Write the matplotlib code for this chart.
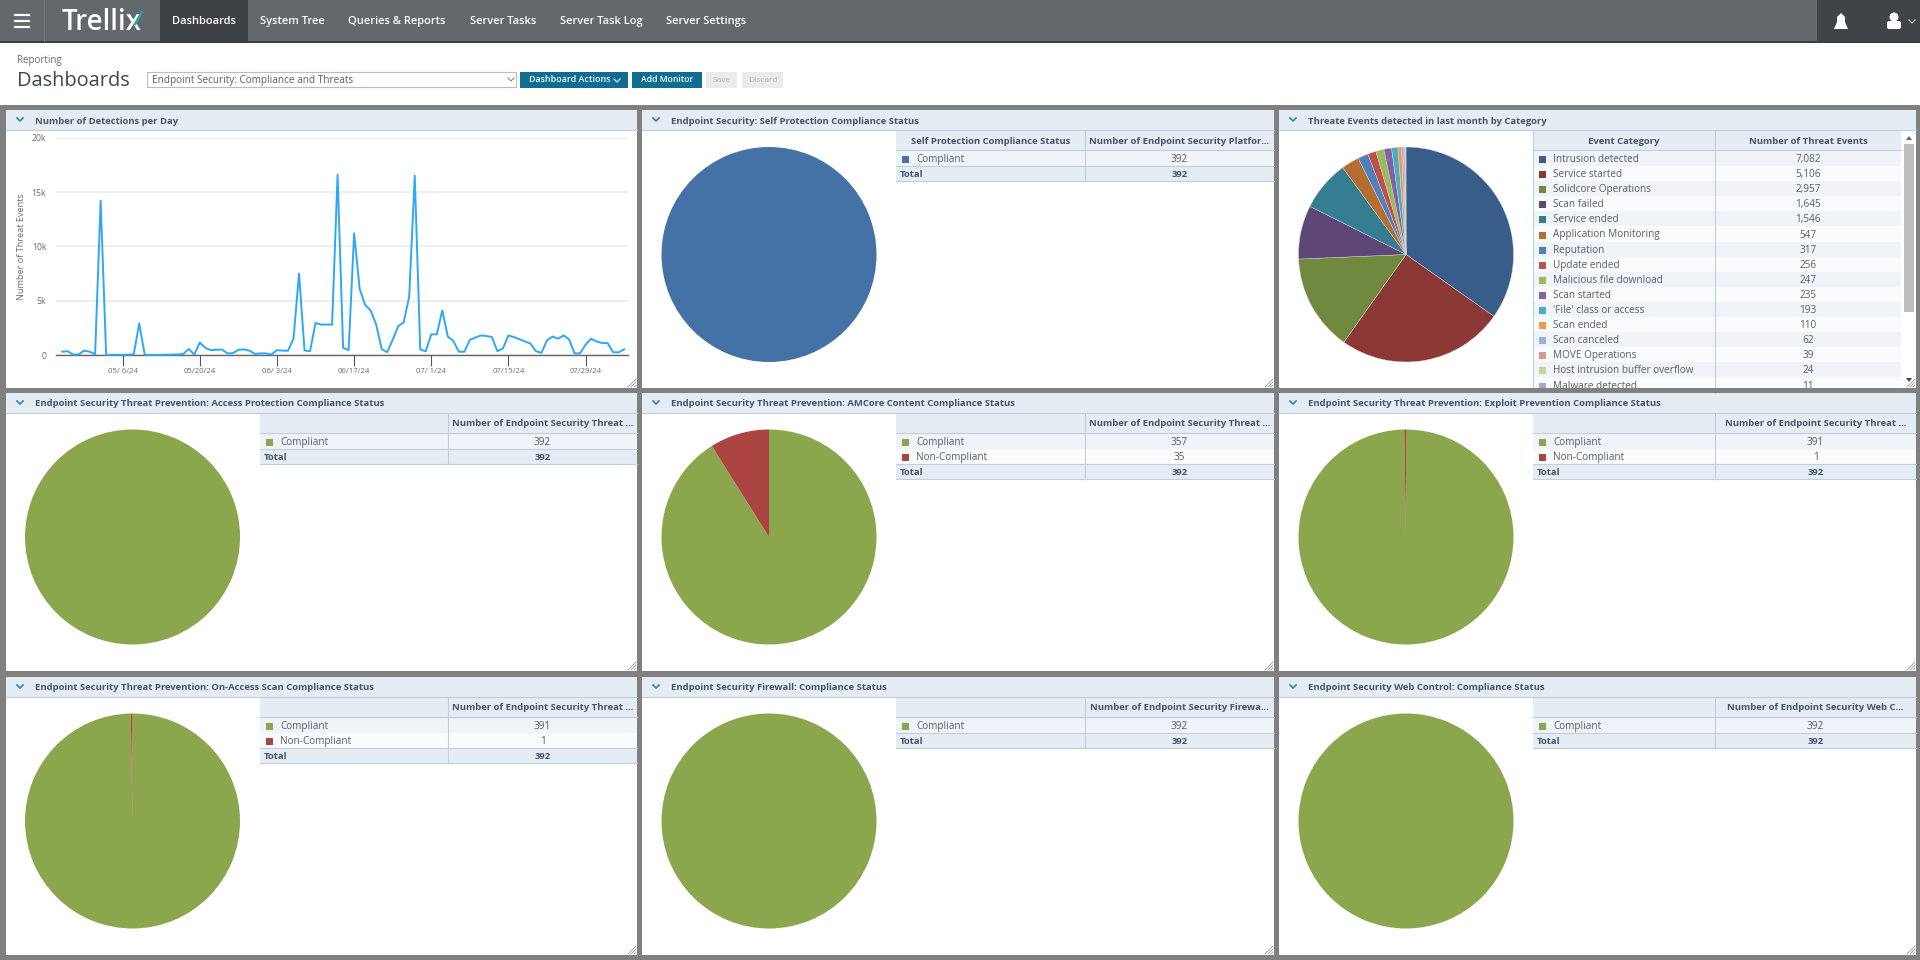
import pandas as pd
import matplotlib
matplotlib.use('Agg')
import matplotlib.pyplot as plt
from matplotlib.patches import Rectangle, Circle, Polygon, FancyBboxPatch

W, H = 1920, 960
UI_FONT = 'Open Sans'

# nav bar
nav_items = ['Dashboards', 'System Tree', 'Queries & Reports', 'Server Tasks', 'Server Task Log', 'Server Settings']
nav_x = [204, 292, 397, 503, 601, 706]

# line chart
detections = [300, 350, 50, 50, 400, 300, 80, 14200, 0, 20, 20, 20, 30, 50, 2900, 30, 0, 10, 20, 30, 40, 50,
              100, 550, 50, 1150, 650, 450, 480, 500, 150, 170, 480, 520, 400, 100, 150, 150, 50, 450, 400, 400,
              1500, 7500, 420, 350, 2950, 2800, 2800, 2800, 16600, 650, 450, 11200, 6100, 4600, 4100, 2800, 550,
              250, 1400, 2650, 3000, 5400, 16500, 500, 350, 1900, 1900, 4100, 1700, 1300, 300, 300, 1400, 1600,
              1800, 1750, 1650, 350, 600, 1800, 1650, 1450, 1250, 1050, 350, 200, 1350, 1700, 1500, 1800, 1450,
              150, 150, 950, 1500, 1250, 1100, 1100, 250, 250, 520]
first_day = '2024-04-25'
date_ticks = ['2024-05-06', '2024-05-20', '2024-06-03', '2024-06-17', '2024-07-01', '2024-07-15', '2024-07-29']
date_labels = ['05/ 6/24', '05/20/24', '06/ 3/24', '06/17/24', '07/ 1/24', '07/15/24', '07/29/24']
y_ticks = [0, 5000, 10000, 15000, 20000]
y_labels = ['0', '5k', '10k', '15k', '20k']

# threat events table and pie
event_names = ['Intrusion detected', 'Service started', 'Solidcore Operations', 'Scan failed', 'Service ended',
               'Application Monitoring', 'Reputation', 'Update ended', 'Malicious file download', 'Scan started',
               "'File' class or access", 'Scan ended', 'Scan canceled', 'MOVE Operations',
               'Host intrusion buffer overflow', 'Malware detected']
event_counts = [7082, 5106, 2957, 1645, 1546, 547, 317, 256, 247, 235, 193, 110, 62, 39, 24, 11]
event_colors = ['#385D8A', '#8C3836', '#71893F', '#5C4776', '#357D91', '#B66D31', '#4F81BD', '#C0504D',
                '#9BBB59', '#8064A2', '#4BACC6', '#F79646', '#95B3D7', '#D99694', '#C3D69B', '#B2A2C7']

# compliance monitors
BLUE, GREEN, RED = '#4472A6', '#8BA64D', '#AC4442'
monitor_titles = ['Endpoint Security: Self Protection Compliance Status',
                  'Endpoint Security Threat Prevention: Access Protection Compliance Status',
                  'Endpoint Security Threat Prevention: AMCore Content Compliance Status',
                  'Endpoint Security Threat Prevention: Exploit Prevention Compliance Status',
                  'Endpoint Security Threat Prevention: On-Access Scan Compliance Status',
                  'Endpoint Security Firewall: Compliance Status',
                  'Endpoint Security Web Control: Compliance Status']
monitor_cols = [1, 0, 1, 2, 0, 1, 2]
monitor_rows = [0, 1, 1, 1, 2, 2, 2]
monitor_heads = ['Number of Endpoint Security Platfor...', 'Number of Endpoint Security Threat ...',
                 'Number of Endpoint Security Threat ...', 'Number of Endpoint Security Threat ...',
                 'Number of Endpoint Security Threat ...', 'Number of Endpoint Security Firewa...',
                 'Number of Endpoint Security Web C...']
monitor_names = [['Compliant'], ['Compliant'], ['Compliant', 'Non-Compliant'], ['Compliant', 'Non-Compliant'],
                 ['Compliant', 'Non-Compliant'], ['Compliant'], ['Compliant']]
monitor_values = [[392], [392], [357, 35], [391, 1], [391, 1], [392], [392]]
monitor_colors = [[BLUE], [GREEN], [GREEN, RED], [GREEN, RED], [GREEN, RED], [GREEN], [GREEN]]

# layout, in pixels of the page
col_left = [6, 642, 1279]
col_right = [637, 1274, 1916]
col_pie = [132.5, 769, 1406]
col_table = [260, 896, 1533]
col_split = [448, 1085, 1715]
row_top = [110, 393, 677]
row_bottom = [388, 671, 955]
row_pie = [254.5, 537, 821]
PIE_R = 107.5

HEAD_BG = '#E6ECF4'
TEXT = '#55606C'
HEAD_TEXT = '#46556A'
BORDER = '#C3CEDC'

fig = plt.figure(figsize=(W / 100, H / 100), dpi=100)
page = fig.add_axes([0, 0, 1, 1])
page.set_xlim(0, W)
page.set_ylim(H, 0)
page.axis('off')


def box(x0, y0, x1, y1, color, z=1, **kw):
    page.add_patch(Rectangle((x0, y0), x1 - x0, y1 - y0, facecolor=color, edgecolor='none', zorder=z, **kw))


def label(x, y, s, size=6.8, color=TEXT, weight='normal', ha='left', font=UI_FONT, z=3):
    page.text(x, y, s, fontsize=size, color=color, fontweight=weight, ha=ha, va='center', family=font, zorder=z)


def add_pie(cx, cy, values, colors, edge='none'):
    ax = fig.add_axes([(cx - PIE_R) / W, 1 - (cy + PIE_R) / H, 2 * PIE_R / W, 2 * PIE_R / H])
    ax.pie(values, colors=colors, startangle=90, counterclock=False, radius=1,
           wedgeprops={'edgecolor': edge, 'linewidth': 0.3})
    ax.set_xlim(-1, 1)
    ax.set_ylim(-1, 1)
    ax.set_zorder(2)


def add_panel(col, row, title):
    x0, x1, y0, y1 = col_left[col], col_right[col], row_top[row], row_bottom[row]
    box(x0, y0, x1, y1, 'white')
    box(x0, y0, x1, y0 + 20, HEAD_BG)
    page.plot([x0, x1], [y0 + 20, y0 + 20], color=BORDER, lw=0.8, zorder=2)
    page.plot([x0 + 11, x0 + 14, x0 + 17], [y0 + 8, y0 + 11, y0 + 8], color='#2B86B8', lw=1.2, zorder=3)
    label(x0 + 29, y0 + 11, title, size=6.8, color=HEAD_TEXT, weight='bold')
    for d in (3, 6, 9):
        page.plot([x1 - d, x1 - 1], [y1 - 1, y1 - d], color='#999999', lw=0.6, zorder=3)


def add_table(col, row, head_left, head_right, names, values, colors, total=None, right=None):
    x0, xs = col_table[col], col_split[col]
    x1 = right or col_right[col]
    y0 = row_top[row] + 20
    box(x0, y0, x1, y0 + 20, HEAD_BG)
    label((x0 + xs) / 2, y0 + 11, head_left, color=HEAD_TEXT, weight='bold', ha='center')
    label((xs + x1) / 2, y0 + 11, head_right, color=HEAD_TEXT, weight='bold', ha='center')
    y = y0 + 21
    for i in range(len(names)):
        box(x0, y, x1, y + 15, '#F0F3F8' if i % 2 == 0 else '#FAFBFC')
        box(x0 + 6, y + 5, x0 + 13, y + 12, colors[i], z=3)
        label(x0 + 20, y + 8.5, names[i], size=7.2)
        label((xs + x1) / 2, y + 8.5, f'{values[i]:,}', size=7.2, ha='center')
        y += 15.1
    if total is not None:
        page.plot([x0, x1], [y, y], color=BORDER, lw=0.8, zorder=2)
        box(x0, y + 0.5, x1, y + 15, HEAD_BG)
        page.plot([x0, x1], [y + 15, y + 15], color=BORDER, lw=0.8, zorder=2)
        label(x0 + 4, y + 8.5, 'Total', size=6.8, color=HEAD_TEXT, weight='bold')
        label((xs + x1) / 2, y + 8.5, f'{total:,}', size=6.8, color=HEAD_TEXT, weight='bold', ha='center')
    page.plot([x0, x1], [y0 + 20, y0 + 20], color=BORDER, lw=0.8, zorder=2)
    page.plot([xs, xs], [y0, y], color=BORDER, lw=0.8, zorder=2)
    if total is not None:
        page.plot([xs, xs], [y, y + 15], color=BORDER, lw=0.8, zorder=2)


# page background and top bars
box(0, 0, W, H, '#808080', z=0)
box(0, 43, W, 105, 'white')
box(0, 0, W, 41, '#63686D')
box(0, 41, W, 43, '#3A3D40', z=2)
box(160, 0, 248, 41, '#3E4247', z=2)
box(1817, 0, W, 41, '#3F4447', z=2)
page.plot([44, 44], [0, 41], color='#74797E', lw=0.8, zorder=2)
for yy in (15, 21, 27):
    page.plot([15, 29], [yy, yy], color='white', lw=1.6, zorder=3)
label(62, 22.5, 'Trellix', size=20, color='white', weight='semibold')
page.plot([135, 142], [24, 12], color='#1FA8A0', lw=1.8, zorder=4)
for i in range(len(nav_items)):
    label(nav_x[i], 21.5, nav_items[i], size=8, color='white', weight='semibold', ha='center')
# bell and user icons
page.add_patch(Polygon([(1834, 29), (1837, 22), (1837, 17), (1841, 13), (1845, 17), (1845, 22), (1848, 29)],
                       facecolor='white', edgecolor='none', zorder=3))
page.add_patch(Circle((1894, 17), 4.5, facecolor='white', edgecolor='none', zorder=3))
page.add_patch(FancyBboxPatch((1889, 23), 10, 4, boxstyle='round,pad=2', facecolor='white', edgecolor='none', zorder=3))
page.plot([1909, 1912, 1915], [20, 23, 20], color='#C5C8CB', lw=0.9, zorder=3)

label(17, 60, 'Reporting', size=7.0, color='#666C73')
label(17, 81.5, 'Dashboards', size=14.4, color='#3F464D')
page.add_patch(Rectangle((147, 72), 369, 15, facecolor='white', edgecolor='#B9BDC2', lw=0.8, zorder=2))
label(152, 80, 'Endpoint Security: Compliance and Threats', size=7.2)
page.plot([508, 511, 514], [78, 81, 78], color='#888888', lw=0.8, zorder=3)
box(520, 72, 628, 88, '#0F6D93', z=2)
label(570, 80, 'Dashboard Actions', size=6.4, color='white', weight='semibold', ha='center')
page.plot([614, 617, 620], [79, 82, 79], color='white', lw=0.8, zorder=3)
box(632, 72, 702, 88, '#0F6D93', z=2)
label(667, 80, 'Add Monitor', size=6.2, color='white', weight='semibold', ha='center')
box(706, 72, 737, 88, '#EBEBEB', z=2)
label(721.5, 80, 'Save', size=6.0, color='#B5B5B5', ha='center')
box(742, 72, 783, 88, '#EBEBEB', z=2)
label(762.5, 80, 'Discard', size=6.0, color='#B5B5B5', ha='center')

# line chart monitor
add_panel(0, 0, 'Number of Detections per Day')
days = pd.date_range(first_day, periods=len(detections))
lx0, lx1, ly0, ly1 = 56, 628, 137.7, 355
ax = fig.add_axes([lx0 / W, 1 - ly1 / H, (lx1 - lx0) / W, (ly1 - ly0) / H])
ax.plot(days, detections, color='#2EA8F5', lw=1.4, zorder=3, clip_on=False)
ax.set_xlim(days[0] - pd.Timedelta(days=1.1), days[-1] + pd.Timedelta(days=0.7))
ax.set_ylim(0, 20000)
ax.set_yticks(y_ticks)
ax.set_yticklabels(y_labels, fontsize=6.2, color='#6A6A6A', family=UI_FONT)
ax.set_xticks(pd.to_datetime(date_ticks))
ax.set_xticklabels(date_labels, fontsize=5.6, color='#6A6A6A', family=UI_FONT)
ax.tick_params(axis='y', length=0, pad=7)
ax.tick_params(axis='x', length=8, width=0.8, color='#555555', pad=1.5)
ax.grid(axis='y', color='#E9E9E9', lw=1.1)
ax.set_axisbelow(True)
for side in ['top', 'left', 'right']:
    ax.spines[side].set_visible(False)
ax.spines['bottom'].set_color('#666666')
ax.spines['bottom'].set_linewidth(1.0)
ax.set_zorder(2)
ax.patch.set_alpha(0)
page.text(22, 247, 'Number of Threat Events', rotation=90, fontsize=6.6, color='#6A6A6A', ha='center', va='center',
          family=UI_FONT, zorder=3)

# threat events monitor
add_panel(2, 0, 'Threate Events detected in last month by Category')
add_pie(col_pie[2], row_pie[0], event_counts, event_colors, edge='#D8D8D8')
add_table(2, 0, 'Event Category', 'Number of Threat Events', event_names, event_counts, event_colors, right=1901)
page.plot([col_table[2], col_table[2]], [130, 388], color=BORDER, lw=0.8, zorder=2)
box(1904, 144, 1914, 312, '#BDBDBD', z=3)
page.add_patch(Polygon([(1906, 140), (1912, 140), (1909, 136)], facecolor='#666666', edgecolor='none', zorder=3))
page.add_patch(Polygon([(1906, 378), (1912, 378), (1909, 382)], facecolor='#444444', edgecolor='none', zorder=3))

# compliance monitors
for i in range(len(monitor_titles)):
    c, r = monitor_cols[i], monitor_rows[i]
    add_panel(c, r, monitor_titles[i])
    add_pie(col_pie[c], row_pie[r], monitor_values[i], monitor_colors[i])
    head_left = 'Self Protection Compliance Status' if i == 0 else ''
    add_table(c, r, head_left, monitor_heads[i], monitor_names[i], monitor_values[i], monitor_colors[i],
              total=sum(monitor_values[i]))

# gray gaps over anything that runs past a panel edge
box(0, 388, W, 393, '#808080', z=10)

fig.savefig('out.png', dpi=100)
